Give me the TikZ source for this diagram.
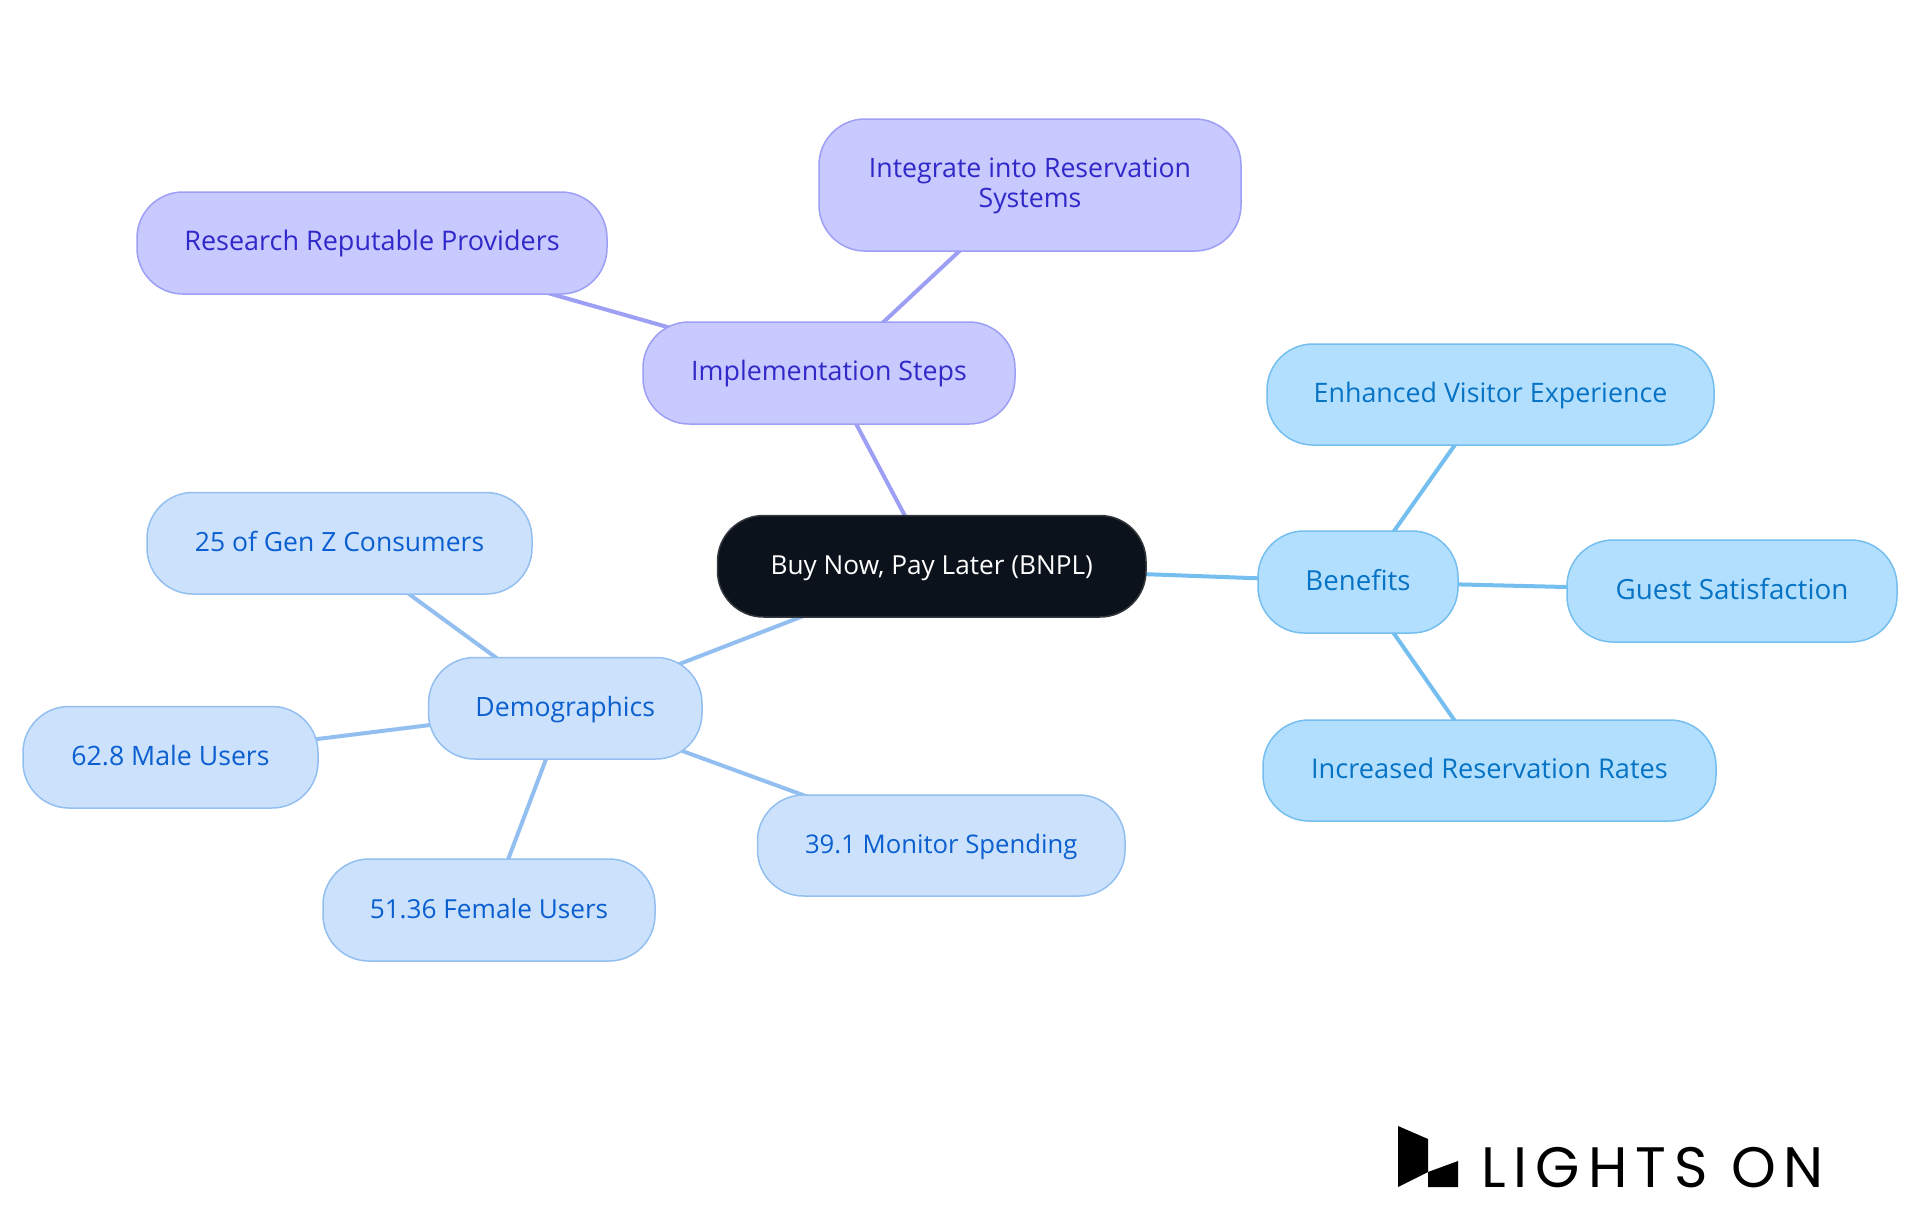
\documentclass[tikz,border=0pt]{standalone}
\usepackage{fontspec}
\setmainfont{Open Sans}
\newfontfamily\logofont{Poppins}
\usetikzlibrary{backgrounds}
\tikzset{
  x=1pt,y=-1pt,
  fsz/.style={font=\fontsize{#1}{30}\selectfont},
  pill/.style={draw,rounded corners=46pt,line width=1.5pt,inner sep=0pt,align=center,fsz=27},
  rootnode/.style={pill,fill=rootfill,draw=rootline,text=white},
  violet/.style={pill,fill=vfill,draw=vline,text=vtext},
  sky/.style={pill,fill=sfill,draw=sline,text=stext},
  azure/.style={pill,fill=afill,draw=aline,text=atext},
  vlink/.style={draw=vline,line width=4pt},
  slink/.style={draw=sline,line width=4pt},
  alink/.style={draw=aline,line width=4pt}
}
\definecolor{rootfill}{HTML}{0C121C}
\definecolor{rootline}{HTML}{33383F}
\definecolor{vfill}{HTML}{C7C9FF}
\definecolor{vline}{HTML}{9D9FF5}
\definecolor{vtext}{HTML}{3028C8}
\definecolor{sfill}{HTML}{B3DFFF}
\definecolor{sline}{HTML}{74BEF0}
\definecolor{stext}{HTML}{0673C4}
\definecolor{afill}{HTML}{CCE2FC}
\definecolor{aline}{HTML}{93BFF0}
\definecolor{atext}{HTML}{0B5FD0}
\newcommand{\lnstrut}{\rule[-6pt]{0pt}{28pt}}
\newcommand{\pillnode}[7]{\node[#1,minimum width=#6pt-#4pt,minimum height=#7pt-#5pt] (#2) at ({(#4+#6)/2},{(#5+#7)/2}) {\lnstrut #3};}
\begin{document}
\begin{tikzpicture}
\useasboundingbox (0,0) rectangle (1920,1215);
\pillnode{rootnode,fsz=26.2}{root}{Buy Now, Pay Later (BNPL)}{717.5}{515.5}{1146}{617}
\pillnode{violet,fsz=26.8}{impl}{Implementation Steps}{643}{322}{1015}{424}
\pillnode{violet,fsz=26.7}{integ}{Integrate into Reservation\\\lnstrut Systems}{819}{119}{1241}{251}
\pillnode{violet}{research}{Research Reputable Providers}{137}{192}{607}{294}
\pillnode{sky,fsz=27.6}{benefits}{Benefits}{1258}{531}{1458}{633}
\pillnode{sky,fsz=26.8}{enh}{Enhanced Visitor Experience}{1267}{344}{1714}{445}
\pillnode{sky,fsz=27.8}{guest}{Guest Satisfaction}{1567}{540}{1897}{642}
\pillnode{sky,fsz=27.2}{incr}{Increased Reservation Rates}{1263}{720}{1716}{821}
\pillnode{azure,fsz=26.6}{demo}{Demographics}{428.5}{657.5}{702}{759}
\pillnode{azure,fsz=26.5}{genz}{25 of Gen Z Consumers}{147}{492.5}{532}{594}
\pillnode{azure,fsz=26.7}{male}{62.8 Male Users}{23}{706.5}{318}{808}
\pillnode{azure,fsz=26.2}{female}{51.36 Female Users}{323}{859}{655}{961}
\pillnode{azure,fsz=25.7}{monitor}{39.1 Monitor Spending}{757.5}{795}{1125}{896}
\begin{pgfonlayer}{background}
\draw[vlink] (root.center) -- (impl.center);
\draw[vlink] (impl.center) -- (integ.center);
\draw[vlink] (impl.center) -- (research.center);
\draw[slink] (root.center) -- (benefits.center);
\draw[slink] (benefits.center) -- (enh.center);
\draw[slink] (benefits.center) -- (guest.center);
\draw[slink] (benefits.center) -- (incr.center);
\draw[alink] (root.center) -- (demo.center);
\draw[alink] (demo.center) -- (genz.center);
\draw[alink] (demo.center) -- (male.center);
\draw[alink] (demo.center) -- (female.center);
\draw[alink] (demo.center) -- (monitor.center);
\end{pgfonlayer}
\fill[black] (1398,1126) -- (1428,1139) -- (1428,1172) -- (1398,1187) -- cycle;
\fill[black] (1428,1172) -- (1458,1161) -- (1458,1187) -- (1428,1187) -- cycle;
\node[inner sep=0pt,anchor=base west,font=\logofont\fontsize{57}{60}\selectfont\addfontfeatures{LetterSpace=14}] (logo) at (1481,1187) {LIGHTS ON};
\end{tikzpicture}
\end{document}
